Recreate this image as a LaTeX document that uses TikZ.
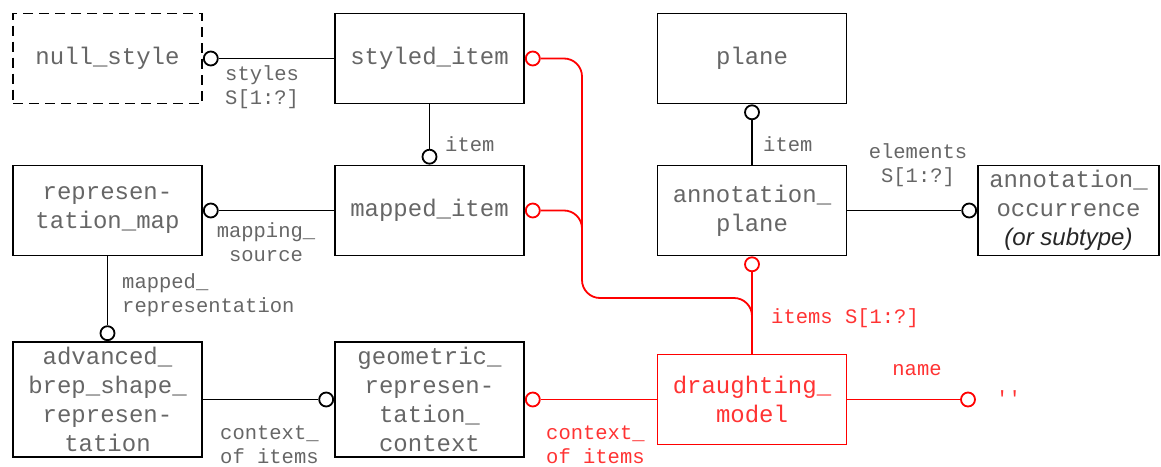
\documentclass[tikz,border=0pt]{standalone}
\usepackage{fontspec}
\usepackage{tikz}
\usetikzlibrary{positioning}
\newfontfamily\monofont{Liberation Mono}
\newfontfamily\sansfont{Liberation Sans}
\newcommand{\boxfont}{\monofont\fontsize{24}{29}\selectfont}
\newcommand{\lblfont}{\monofont\fontsize{20.5}{24}\selectfont}
\newcommand{\subtype}[1]{{\sansfont\itshape\color{black!85}#1}}
\tikzset{
  entity/.style={draw, line width=1.8pt, minimum width=189pt, minimum height=90pt,
    align=center, font=\boxfont, text=black!60, inner sep=0pt},
  ring/.style={draw, circle, fill=white, line width=1.8pt, minimum size=14pt, inner sep=0pt},
  lbl/.style={font=\lblfont, text=black!60, inner sep=0pt},
  link/.style={line width=1.8pt},
  redlink/.style={link, red}
}

\begin{document}
\begin{tikzpicture}[x=1pt, y=-1pt]
    \useasboundingbox (0,0) rectangle (1161,466);
    % Draw entity boxes
    \node[entity, dash pattern=on 10pt off 6pt] (nullstyle) at (107.5,58.5) {null\_style};
    \node[entity] (styled) at (429.5,58.5) {styled\_item};
    \node[entity] (plane) at (752,58.5) {plane};
    \node[entity] (repmap) at (107.5,210.5) {represen-\\tation\_map};
    \node[entity] (mapped) at (429.5,210.5) {mapped\_item};
    \node[entity] (annplane) at (752,210.5) {annotation\_\\plane};
    \node[entity, minimum width=181pt] (annocc) at (1068.5,210.5)
        {annotation\_\\occurrence\\\subtype{(or subtype)}};
    \node[entity, minimum height=115pt] (adv) at (107.5,399.5)
        {advanced\_\\brep\_shape\_\\represen-\\tation};
    \node[entity, minimum height=115pt] (geo) at (429.5,399.5)
        {geometric\_\\represen-\\tation\_\\context};
    \node[entity, draw=red, text=red!80] (draught) at (752,399.5) {draughting\_\\model};
    % Draw end circles
    \node[ring, right=0pt of nullstyle] (c1) {};
    \node[ring, above=0pt of mapped] (c2) {};
    \node[ring, right=0pt of repmap] (c3) {};
    \node[ring, above=0pt of adv] (c4) {};
    \node[ring, left=0pt of geo] (c5) {};
    \node[ring, below=0pt of plane] (c6) {};
    \node[ring, left=0pt of annocc] (c7) {};
    \node[ring, draw=red, right=0pt of styled] (r1) {};
    \node[ring, draw=red, right=0pt of mapped] (r2) {};
    \node[ring, draw=red, below=0pt of annplane] (r3) {};
    \node[ring, draw=red, right=0pt of geo] (r4) {};
    \node[ring, draw=red] (rname) at (968,399.5) {};
    % Draw black relations
    \draw[link] (c1) -- (styled);
    \draw[link] (styled) -- (c2);
    \draw[link] (c3) -- (mapped);
    \draw[link] (repmap) -- (c4);
    \draw[link] (adv) -- (c5);
    \draw[link] (c6) -- (annplane);
    \draw[link] (annplane) -- (c7);
    % Draw red relations
    \coordinate (bend) at (582,298);
    \coordinate (join) at (582,255);
    \coordinate (merge) at (draught.north |- bend);
    \draw[redlink, rounded corners=18pt] (r1.east) -| (bend) -- (merge) -- (draught.north);
    \draw[redlink, rounded corners=18pt] (r2.east) -| (join);
    \draw[redlink] (draught) -- (r3);
    \draw[redlink] (r4) -- (draught);
    \draw[redlink] (draught) -- (rname);
    % Relation labels
    \node[lbl, anchor=west, align=left] (lstyles) at (225,87.5) {styles\\S[1:?]};
    \node[lbl, anchor=west] (litem1) at (445,144) {item};
    \node[lbl, align=center] (lsource) at (266,242) {mapping\_\\source};
    \node[lbl, anchor=west, align=left] (lmapped) at (122,295) {mapped\_\\representation};
    \node[lbl, anchor=west, align=left] (lctx1) at (220,445) {context\_\\of items};
    \node[lbl, anchor=west] (litem2) at (763,144) {item};
    \node[lbl, align=center] (lelements) at (918,165) {elements\\S[1:?]};
    \node[lbl, anchor=west, text=red!80] (litems) at (771,318) {items S[1:?]};
    \node[lbl, anchor=west, align=left, text=red!80] (lctx2) at (546,445) {context\_\\of items};
    \node[lbl, text=red!80] (lname) at (917,370) {name};
    \node[lbl, anchor=west, text=red!80] (lquote) at (996,398) {\textquotesingle\textquotesingle};
\end{tikzpicture}
\end{document}
